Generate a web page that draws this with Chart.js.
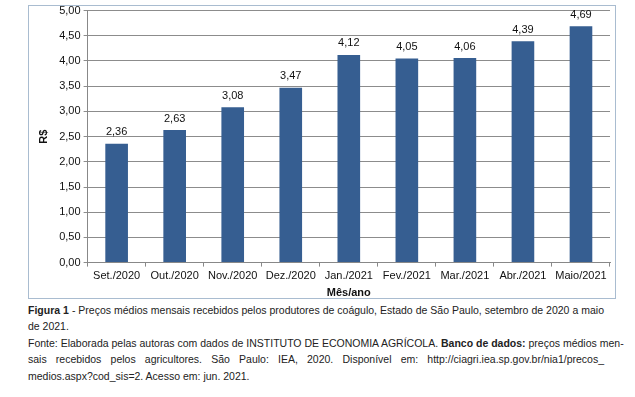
<!DOCTYPE html>
<html><head><meta charset="utf-8">
<script src="https://cdn.jsdelivr.net/npm/chart.js@4/dist/chart.umd.min.js"></script>
<style>
html,body{margin:0;padding:0;background:#fff;width:635px;height:397px;overflow:hidden;}
#frame{position:absolute;left:28px;top:5px;width:586px;height:292px;border:1px solid #a9bcd0;overflow:hidden;}
#frame canvas{display:block;margin-top:-5px;}
.cap{position:absolute;left:28px;width:576px;font-family:"Liberation Sans",Arial,sans-serif;font-size:10.5px;color:#222;line-height:14px;white-space:nowrap;}
.j{text-align:justify;text-align-last:justify;}
</style></head><body>
<div id="frame"><canvas id="c" width="586" height="299"></canvas></div>
<div class="cap j" style="top:303px;"><b>Figura 1</b> - Preços médios mensais recebidos pelos produtores de coágulo, Estado de São Paulo, setembro de 2020 a maio</div>
<div class="cap" style="top:319px;">de 2021.</div>
<div class="cap j" style="top:336px;">Fonte: Elaborada pelas autoras com dados de INSTITUTO DE ECONOMIA AGRÍCOLA. <b>Banco de dados:</b> preços médios men-</div>
<div class="cap j" style="top:352px;">sais recebidos pelos agricultores. São Paulo: IEA, 2020. Disponível em: http://ciagri.iea.sp.gov.br/nia1/precos_</div>
<div class="cap" style="top:369px;">medios.aspx?cod_sis=2. Acesso em: jun. 2021.</div>
<script>
const categories = ["Set./2020","Out./2020","Nov./2020","Dez./2020","Jan./2021","Fev./2021","Mar./2021","Abr./2021","Maio/2021"];
const prices = [2.36, 2.63, 3.08, 3.47, 4.12, 4.05, 4.06, 4.39, 4.69];
const yTitle = "R$";
const xTitle = "Mês/ano";

const fmt = v => v.toFixed(2).replace('.', ',');
const font = {family:"Liberation Sans, Arial, sans-serif", size:11};

const valueLabels = {
  id:'valueLabels',
  afterDatasetsDraw(chart){
    const ctx = chart.ctx;
    const meta = chart.getDatasetMeta(0);
    ctx.save();
    ctx.font = "11px Liberation Sans, Arial, sans-serif";
    ctx.fillStyle = "#111";
    ctx.textAlign = "center";
    ctx.textBaseline = "bottom";
    meta.data.forEach((bar, i) => {
      ctx.fillText(fmt(prices[i]), bar.x, bar.y - 6);
    });
    ctx.restore();
  }
};

new Chart(document.getElementById('c'), {
  type:'bar',
  data:{labels:categories, datasets:[{data:prices, backgroundColor:'#365e91', borderWidth:0, categoryPercentage:1, barPercentage:0.39}]},
  options:{
    responsive:false, animation:false, devicePixelRatio:1,
    layout:{padding:{top:0,right:5,left:8,bottom:0}},
    plugins:{legend:{display:false}, tooltip:{enabled:false}},
    scales:{
      x:{
        grid:{offset:true, drawOnChartArea:false, drawTicks:true, tickLength:4, color:'#888'},
        border:{color:'#888'},
        ticks:{font:font, color:'#111', padding:3, maxRotation:0, autoSkip:false},
        title:{display:true, text:xTitle, font:{family:font.family, size:11, weight:'bold'}, color:'#111', padding:{top:1,bottom:0}}
      },
      y:{
        min:0, max:5,
        grid:{color:'#8c8c8c', drawTicks:true, tickLength:4},
        border:{color:'#888'},
        ticks:{stepSize:0.5, font:font, color:'#111', padding:3, callback:v=>fmt(v)},
        title:{display:true, text:yTitle, font:{family:font.family, size:11, weight:'bold'}, color:'#111', padding:{top:0,bottom:6}}
      }
    }
  },
  plugins:[valueLabels]
});
</script>
</body></html>
